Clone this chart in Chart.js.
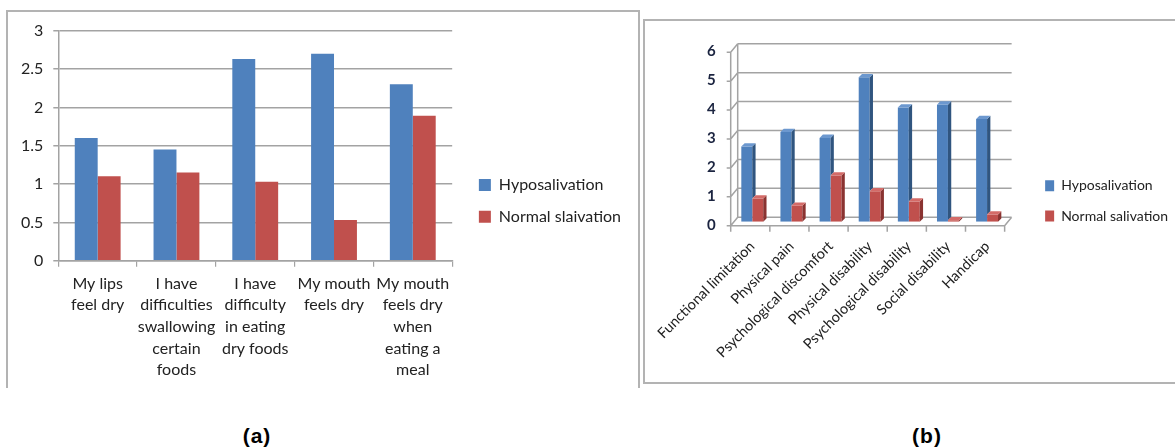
<!DOCTYPE html>
<html>
<head>
<meta charset="utf-8">
<script src="https://cdn.jsdelivr.net/npm/chart.js@4/dist/chart.umd.min.js"></script>
<style>
html,body{margin:0;padding:0;background:#fff;width:1175px;height:448px;overflow:hidden;position:relative;}
#frameA{position:absolute;left:6px;top:10px;width:634px;height:378px;border:2px solid #b3b3b3;border-bottom:none;box-sizing:border-box;}
#frameB{position:absolute;left:643px;top:19px;width:560px;height:365px;border:2px solid #b3b3b3;border-right:none;box-sizing:border-box;}
#cA{position:absolute;left:0;top:0;}
#cB{position:absolute;left:644px;top:20px;}
.cap{position:absolute;top:425px;width:100px;text-align:center;font:bold 21px "Liberation Sans",Arial,sans-serif;letter-spacing:1px;line-height:22px;color:#000;}
</style>
</head>
<body>
<div id="frameA"></div>
<div id="frameB"></div>
<canvas id="cA" width="640" height="400"></canvas>
<canvas id="cB" width="535" height="363"></canvas>
<div class="cap" style="left:207px">(a)</div>
<div class="cap" style="left:877px">(b)</div>
<script>
// ---------- data (a) ----------
const categoriesA = [
  ["My lips", "feel dry"],
  ["I have", "difficulties", "swallowing", "certain", "foods"],
  ["I have", "difficulty", "in eating", "dry foods"],
  ["My mouth", "feels dry"],
  ["My mouth", "feels dry", "when", "eating a", "meal"]
];
const hypoA = [1.6, 1.45, 2.63, 2.7, 2.3];
const normalA = [1.1, 1.15, 1.03, 0.53, 1.89];
const ticksA = [0, 0.5, 1, 1.5, 2, 2.5, 3];
const seriesA = ["Hyposalivation", "Normal slaivation"];

// ---------- data (b) ----------
const categoriesB = ["Functional limitation", "Physical pain", "Psychological discomfort",
  "Physical disability", "Psychological disability", "Social disability", "Handicap"];
const hypoB = [2.6, 3.1, 2.9, 5.0, 3.95, 4.05, 3.55];
const normalB = [0.8, 0.55, 1.6, 1.05, 0.7, 0.05, 0.25];
const ticksB = [0, 1, 2, 3, 4, 5, 6];
const seriesB = ["Hyposalivation", "Normal salivation"];

const BLUE = '#4f81bd', RED = '#c0504d';
const GRID = '#a3a3a3';
const TXT = '#222222';

// ---------- chart (a) ----------
new Chart(document.getElementById('cA'), {
  type: 'bar',
  data: {
    labels: categoriesA,
    datasets: [
      {label: seriesA[0], data: hypoA, backgroundColor: BLUE, borderWidth: 0},
      {label: seriesA[1], data: normalA, backgroundColor: RED, borderWidth: 0}
    ]
  },
  options: {
    responsive: false, animation: false, devicePixelRatio: 1,
    layout: {padding: {top: 11.7, bottom: 10, left: 0, right: 9}},
    datasets: {bar: {categoryPercentage: 0.582, barPercentage: 1}},
    plugins: {
      tooltip: {enabled: false},
      title: {display: true, text: '', font: {size: 10, lineHeight: 1}, padding: {top: 9, bottom: 0}},
      legend: {
        position: 'right', maxWidth: 300,
        labels: {font: {family: 'Lato', size: 16}, color: TXT, boxWidth: 12, boxHeight: 12, padding: 15.7}
      }
    },
    scales: {
      x: {
        grid: {display: true, drawOnChartArea: false, drawTicks: true, tickLength: 6, color: GRID, lineWidth: 1.2},
        border: {display: true, color: GRID, width: 1.5},
        ticks: {font: {family: 'Lato', size: 16, lineHeight: 1.356}, color: TXT, maxRotation: 0, minRotation: 0, autoSkip: false, padding: 6},
        afterFit: s => { s.height = 129.3; }
      },
      y: {
        min: 0, max: 3,
        afterBuildTicks: s => { s.ticks = ticksA.map(v => ({value: v})); },
        grid: {color: GRID, lineWidth: 1.5, tickLength: 5},
        border: {display: true, color: GRID, width: 1.5},
        ticks: {font: {family: 'Lato', size: 16}, color: TXT, padding: 10, callback: v => String(v)},
        afterFit: s => { s.width = 58.3; }
      },
      gap: {
        type: 'linear', position: 'right', display: true,
        grid: {display: false, drawTicks: false}, border: {display: false}, ticks: {display: false},
        afterFit: s => { s.width = 11; }
      }
    }
  }
});

// ---------- chart (b) with 3-D look ----------
const FRONT = {dx: -2, dy: 4};   // front plane of the floor/axis
const BACK = {dx: 5, dy: -4.5};  // back wall
const DEPTH = 3.3;               // bar depth
const SIDE = ['#30557f', '#8a3331'];
const TOP = ['#6c98cf', '#d46b68'];

const threeD = {
  id: 'threeD',
  beforeDatasetsDraw(chart) {
    const {ctx, chartArea: ca, scales: {x: xs, y: ys}} = chart;
    const n = categoriesB.length;
    const cw = (ca.right - ca.left) / n;
    ctx.save();
    ctx.strokeStyle = GRID; ctx.lineWidth = 1.5;
    ctx.beginPath();
    ticksB.forEach(v => {
      const y = ys.getPixelForValue(v);
      ctx.moveTo(ca.left + BACK.dx, y + BACK.dy); ctx.lineTo(ca.right + BACK.dx, y + BACK.dy);
      ctx.moveTo(ca.left + FRONT.dx - 4, y + FRONT.dy); ctx.lineTo(ca.left + FRONT.dx, y + FRONT.dy);
      ctx.lineTo(ca.left + BACK.dx, y + BACK.dy);
    });
    const y0 = ys.getPixelForValue(ticksB[0]), y6 = ys.getPixelForValue(ticksB[ticksB.length - 1]);
    ctx.moveTo(ca.left + BACK.dx, y0 + BACK.dy); ctx.lineTo(ca.left + BACK.dx, y6 + BACK.dy);
    ctx.moveTo(ca.left + FRONT.dx, y0 + FRONT.dy); ctx.lineTo(ca.left + FRONT.dx, y6 + FRONT.dy);
    ctx.moveTo(ca.left + FRONT.dx, y0 + FRONT.dy); ctx.lineTo(ca.right + FRONT.dx, y0 + FRONT.dy);
    ctx.lineTo(ca.right + BACK.dx, y0 + BACK.dy);
    for (let i = 0; i <= n; i++) {
      const x = ca.left + i * cw + FRONT.dx;
      ctx.moveTo(x, y0 + FRONT.dy); ctx.lineTo(x, y0 + FRONT.dy + 6);
    }
    ctx.stroke();
    ctx.restore();
  },
  afterDatasetsDraw(chart) {
    const {ctx} = chart;
    const m0 = chart.getDatasetMeta(0).data, m1 = chart.getDatasetMeta(1).data;
    const d = DEPTH;
    const poly = (pts, c) => {
      ctx.beginPath(); ctx.moveTo(pts[0][0], pts[0][1]);
      for (let k = 1; k < pts.length; k++) ctx.lineTo(pts[k][0], pts[k][1]);
      ctx.closePath(); ctx.fillStyle = c; ctx.fill();
    };
    ctx.save();
    m0.forEach((h, i) => {
      const nb = m1[i];
      const hl = h.x - h.width / 2, hr = h.x + h.width / 2;
      const nl = nb.x - nb.width / 2, nr = nb.x + nb.width / 2;
      const cut = Math.max(Math.min(nb.y, h.base), h.y);
      if (cut > h.y) poly([[hr, h.y], [hr + d, h.y - d], [hr + d, cut - d], [hr, cut]], SIDE[0]);
      poly([[hl, h.y], [hl + d, h.y - d], [hr + d, h.y - d], [hr, h.y]], TOP[0]);
      poly([[nr, nb.y], [nr + d, nb.y - d], [nr + d, nb.base - d], [nr, nb.base]], SIDE[1]);
      poly([[nl, nb.y], [nl + d, nb.y - d], [nr + d, nb.y - d], [nr, nb.y]], TOP[1]);
    });
    ctx.restore();
  }
};

new Chart(document.getElementById('cB'), {
  type: 'bar',
  data: {
    labels: categoriesB,
    datasets: [
      {label: seriesB[0], data: hypoB, backgroundColor: BLUE, borderWidth: 0},
      {label: seriesB[1], data: normalB, backgroundColor: RED, borderWidth: 0}
    ]
  },
  plugins: [threeD],
  options: {
    responsive: false, animation: false, devicePixelRatio: 1,
    layout: {padding: {top: 1.7, bottom: 3, left: 0, right: 1}},
    datasets: {bar: {categoryPercentage: 0.56, barPercentage: 1}},
    plugins: {
      tooltip: {enabled: false},
      title: {display: true, text: '', font: {size: 10, lineHeight: 1}, padding: {top: 16.6, bottom: 0}},
      legend: {
        position: 'right', maxWidth: 300,
        labels: {font: {family: 'Lato', size: 14}, color: TXT, boxWidth: 9, boxHeight: 11, padding: 16.3}
      }
    },
    scales: {
      x: {
        grid: {display: false, drawTicks: false},
        border: {display: false},
        ticks: {font: {family: 'Lato', size: 14.5}, color: TXT, maxRotation: 45, minRotation: 45, autoSkip: false, padding: 16},
        afterFit: s => { s.height = 158.3; s.paddingLeft = 0; s.paddingRight = 0; }
      },
      y: {
        min: 0, max: 6,
        afterBuildTicks: s => { s.ticks = ticksB.map(v => ({value: v})); },
        grid: {display: false, drawTicks: false},
        border: {display: false},
        ticks: {font: {family: 'Lato', size: 15, weight: 'bold'}, color: '#1b2440', padding: 17, labelOffset: 3, callback: v => String(v)},
        afterFit: s => { s.width = 88.7; }
      },
      gap: {
        type: 'linear', position: 'right', display: true,
        grid: {display: false, drawTicks: false}, border: {display: false}, ticks: {display: false},
        afterFit: s => { s.width = 22.2; }
      }
    }
  }
});
</script>
</body>
</html>
